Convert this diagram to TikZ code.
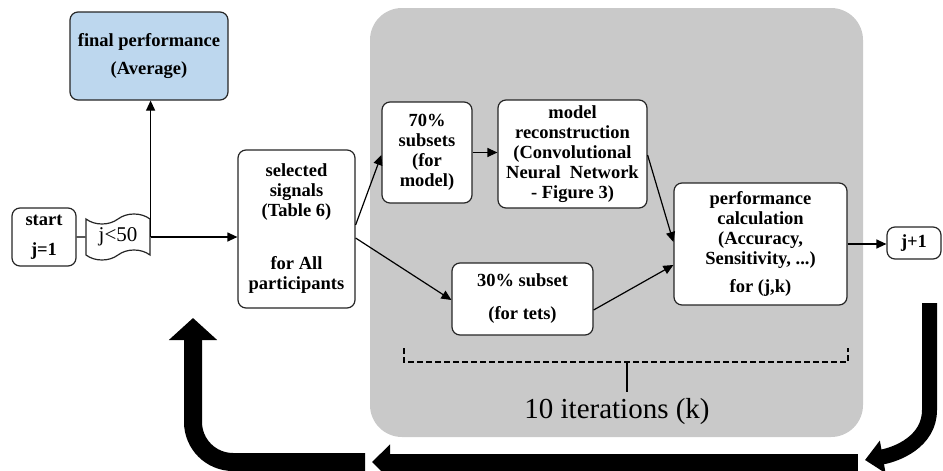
\documentclass[tikz,border=0pt]{standalone}
\usepackage{fontspec}
\setmainfont{Liberation Serif}
\usetikzlibrary{arrows.meta,shapes.symbols}

\definecolor{finalblue}{RGB}{189,215,238}
\definecolor{panelgray}{RGB}{201,201,201}

\tikzset{
  box/.style={draw=black!85, line width=1.2pt, rounded corners=8pt, fill=white,
    align=center, inner sep=0pt, font=\bfseries\fontsize{18.5}{20}\selectfont},
  link/.style={line width=1.2pt, -{Triangle[length=10pt,width=9pt]}},
  bigarrow/.style={line width=16pt, -{Triangle[length=18pt,width=34pt]}}
}

\begin{document}
\begin{tikzpicture}[x=1pt,y=-1pt]
\useasboundingbox (0,0) rectangle (943,471);
\clip (0,0) rectangle (943,471);
% background panel for the inner loop
\fill[panelgray, rounded corners=32pt] (370,8) rectangle (863,437);
% boxes
\node[box, fill=finalblue, minimum width=158pt, minimum height=88pt] (final) at (149,56) {final performance\\[8pt](Average)};
\node[box, minimum width=64pt, minimum height=58pt] (start) at (44,237) {start\\[10pt]j=1};
\node[tape, draw=black!85, line width=1.2pt, tape bend height=10pt, minimum width=64pt, minimum height=46pt,
  inner sep=0pt, font=\fontsize{21}{22}\selectfont] (jcond) at (118,237) {j<50};
\node[box, minimum width=117pt, minimum height=158pt] (sel) at (296.5,229) {selected\\signals\\(Table 6)\\[33pt]for All\\participants};
\node[box, minimum width=90pt, minimum height=101pt] (s70) at (427,152.5) {70\%\\subsets\\(for\\model)};
\node[box, minimum width=149pt, minimum height=108pt] (model) at (572.5,154) {model\\reconstruction\\(Convolutional\\Neural\ \ Network\\- Figure 3)};
\node[box, minimum width=141pt, minimum height=72pt] (s30) at (522.5,299) {30\% subset\\[13pt](for tets)};
\node[box, minimum width=173pt, minimum height=122pt] (perf) at (760.5,244) {performance\\calculation\\(Accuracy,\\Sensitivity, ...)\\[8pt]for (j,k)};
\node[box, minimum width=54pt, minimum height=32pt] (next) at (914,243) {j+1};
% connectors
\draw[line width=1.2pt] (start) -- (jcond);
\draw[link] (jcond.east) -- (jcond.east -| sel.west);
\draw[link] (jcond.east) -- (jcond.east |- final.south);
\draw[link] ([yshift=4pt]sel.east) -- ([yshift=-2.5pt]s70.west);
\draw[link] ([yshift=-9pt]sel.east) -- ([yshift=-1pt]s30.west);
\draw[link] (s70.east) -- (s70.east -| model.west);
\draw[link] ([yshift=-1pt]model.east) -- ([yshift=2pt]perf.west);
\draw[link] ([yshift=-11pt]s30.east) -- ([yshift=-21pt]perf.west);
\draw[link] (perf.east) -- (perf.east -| next.west);
% dashed brace
\coordinate (bl) at (404,348);
\coordinate (br) at (848,348);
\coordinate (bm) at (627,362);
\draw[line width=1.5pt, dash pattern=on 6pt off 3pt] (bl) -- (bl |- bm) -- (br |- bm) -- (br);
\draw[line width=1.5pt] (bm) -- ++(0,30) coordinate (btip);
\node[font=\fontsize{29}{30}\selectfont] (iters) at (617,412) {10 iterations (k)};
% outer loop arrows
\draw[bigarrow, line width=15pt, -{Triangle[length=18pt,width=32pt]}] (929.5,303) -- (929.5,410) to[out=-90,in=10] (865,460);
\draw[bigarrow, line width=17pt] (858,462) -- (372,462);
\draw[bigarrow, line width=18pt, rounded corners=40pt, -{Triangle[length=22pt,width=47pt]}] (365,462) -| (193,318);
\end{tikzpicture}
\end{document}
